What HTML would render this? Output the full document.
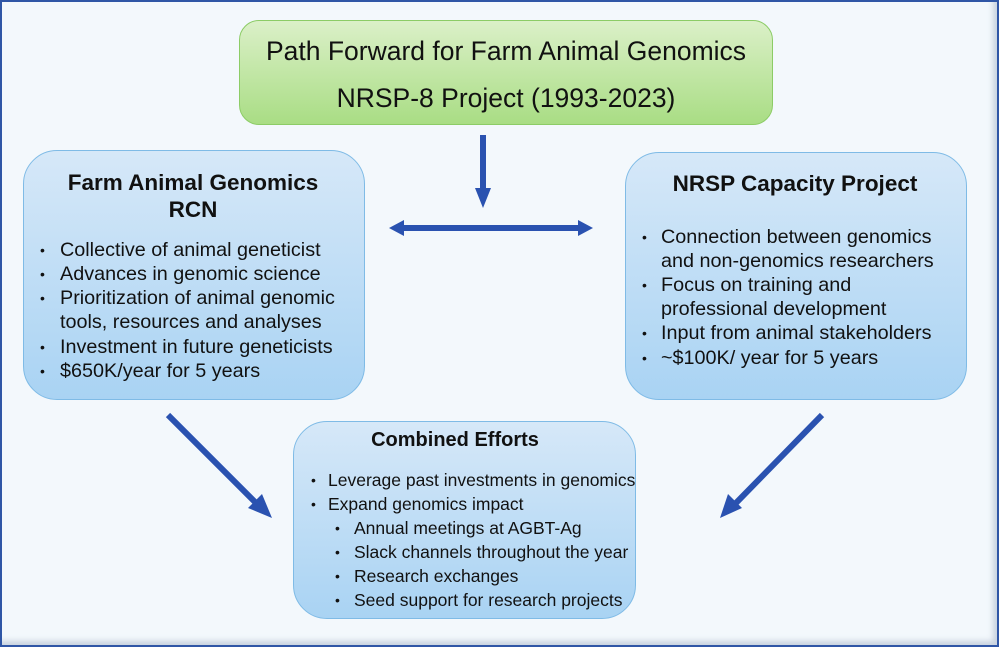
<!DOCTYPE html>
<html><head><meta charset="utf-8"><style>
body{margin:0;width:999px;height:647px;overflow:hidden;background:#fff;font-family:"Liberation Sans",sans-serif;}
#frame{position:absolute;left:0;top:0;width:995px;height:643px;border:2px solid #2f56a6;background:#f3f8fc;box-shadow:inset -6px -6px 6px -2px rgba(120,140,170,0.35);}
.box{position:absolute;border-radius:34px;}
.blue{background:linear-gradient(#d6e8f8,#a9d3f3);border:1px solid #7fbbe6;}
.green{background:linear-gradient(#dbf0c8,#a9dd84);border:1px solid #8ccc66;border-radius:20px;}
.t{position:absolute;white-space:nowrap;color:#111;font-size:19.8px;line-height:20px;}
.c .t{font-size:17.5px;}
.h{position:absolute;white-space:nowrap;color:#111;font-size:22.5px;font-weight:bold;line-height:26px;text-align:center;}
.b{position:absolute;font-size:14px;line-height:20px;color:#111;}
</style></head><body>
<div id="frame"></div>
<div class="box green" style="left:239px;top:20px;width:532px;height:103px;"></div>
<div class="h" style="left:239px;width:534px;top:36px;font-weight:normal;font-size:26.5px;line-height:30px;">Path Forward for Farm Animal Genomics</div>
<div class="h" style="left:239px;width:534px;top:83px;font-weight:normal;font-size:26.5px;line-height:30px;">NRSP-8 Project (1993-2023)</div>

<div class="box blue" style="left:23px;top:150px;width:340px;height:248px;"></div>
<div class="h" style="left:23px;width:340px;top:170px;">Farm Animal Genomics</div>
<div class="h" style="left:23px;width:340px;top:197px;">RCN</div>
<div class="b" style="left:40px;top:240px">•</div><div class="t" style="left:60px;top:240px">Collective of animal geneticist</div>
<div class="b" style="left:40px;top:264px">•</div><div class="t" style="left:60px;top:264px">Advances in genomic science</div>
<div class="b" style="left:40px;top:288px">•</div><div class="t" style="left:60px;top:288px">Prioritization of animal genomic</div>
<div class="t" style="left:60px;top:312px">tools, resources and analyses</div>
<div class="b" style="left:40px;top:337px">•</div><div class="t" style="left:60px;top:337px">Investment in future geneticists</div>
<div class="b" style="left:40px;top:361px">•</div><div class="t" style="left:60px;top:361px">$650K/year for 5 years</div>

<div class="box blue" style="left:625px;top:152px;width:340px;height:246px;"></div>
<div class="h" style="left:625px;width:340px;top:171px;">NRSP Capacity Project</div>
<div class="b" style="left:642px;top:227px">•</div><div class="t" style="left:661px;top:227px">Connection between genomics</div>
<div class="t" style="left:661px;top:251px">and non-genomics researchers</div>
<div class="b" style="left:642px;top:275px">•</div><div class="t" style="left:661px;top:275px">Focus on training and</div>
<div class="t" style="left:661px;top:299px">professional development</div>
<div class="b" style="left:642px;top:323px">•</div><div class="t" style="left:661px;top:323px">Input from animal stakeholders</div>
<div class="b" style="left:642px;top:348px">•</div><div class="t" style="left:661px;top:348px">~$100K/ year for 5 years</div>

<div class="c">
<div class="box blue" style="left:293px;top:421px;width:341px;height:196px;"></div>
<div class="h" style="left:284px;width:342px;top:427px;font-size:20px;">Combined Efforts</div>
<div class="b" style="left:311px;top:470px">•</div><div class="t" style="left:328px;top:470px">Leverage past investments in genomics</div>
<div class="b" style="left:311px;top:494px">•</div><div class="t" style="left:328px;top:494px">Expand genomics impact</div>
<div class="b" style="left:335px;top:518px">•</div><div class="t" style="left:354px;top:518px">Annual meetings at AGBT-Ag</div>
<div class="b" style="left:335px;top:542px">•</div><div class="t" style="left:354px;top:542px">Slack channels throughout the year</div>
<div class="b" style="left:335px;top:566px">•</div><div class="t" style="left:354px;top:566px">Research exchanges</div>
<div class="b" style="left:335px;top:590px">•</div><div class="t" style="left:354px;top:590px">Seed support for research projects</div>
</div>

<svg width="999" height="647" style="position:absolute;left:0;top:0">
<g fill="#2a52b0" stroke="none">
<rect x="480" y="135" width="6" height="55"/>
<polygon points="475,188 491,188 483,208"/>
<rect x="402" y="225" width="178" height="6"/>
<polygon points="404,220 404,236 389,228"/>
<polygon points="578,220 578,236 593,228"/>
</g>
<g stroke="#2a52b0" stroke-width="6" fill="#2a52b0">
<line x1="168" y1="415" x2="257" y2="504"/>
<line x1="822" y1="415" x2="735" y2="504"/>
</g>
<polygon fill="#2a52b0" points="248,508 262,494 272,518"/>
<polygon fill="#2a52b0" points="728,494 742,508 720,518"/>
</svg>
</body></html>
